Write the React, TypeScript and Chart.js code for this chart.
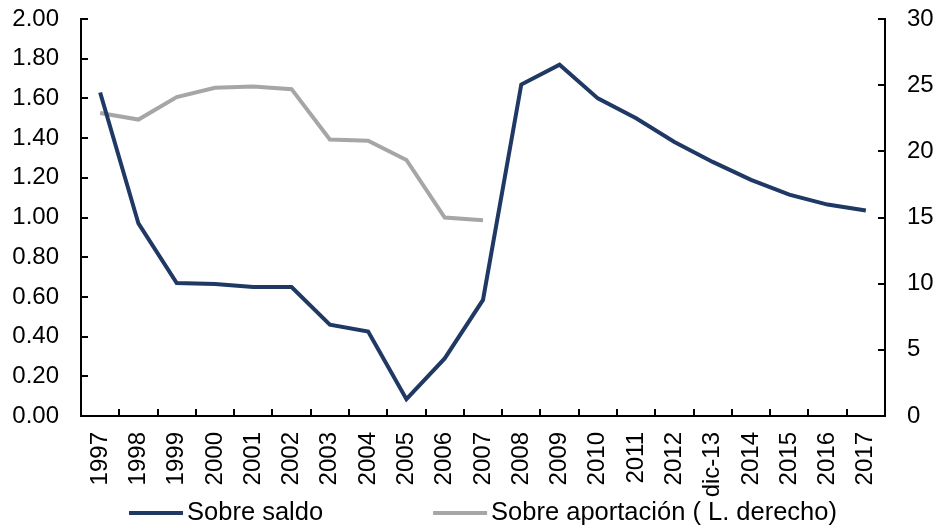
import React, { useEffect, useRef } from "react";
import { Chart, registerables } from "chart.js";

Chart.register(...registerables);

const categories = [
  "1997", "1998", "1999", "2000", "2001", "2002", "2003", "2004", "2005", "2006",
  "2007", "2008", "2009", "2010", "2011", "2012", "dic-13", "2014", "2015", "2016", "2017",
];

const sobreSaldo = [
  1.63, 0.97, 0.67, 0.665, 0.65, 0.65, 0.46, 0.425, 0.085, 0.29,
  0.585, 1.67, 1.77, 1.6, 1.5, 1.38, 1.28, 1.19, 1.115, 1.065, 1.035,
];

const sobreAportacion = [
  22.9, 22.4, 24.1, 24.8, 24.9, 24.7, 20.9, 20.8, 19.35, 15.0,
  14.8, null, null, null, null, null, null, null, null, null, null,
];

const seriesLabels = ["Sobre saldo", "Sobre aportación ( L. derecho)"];
const seriesColors = ["#1F3864", "#A6A6A6"];

const leftAxis = { min: 0, max: 2, step: 0.2 };
const rightAxis = { min: 0, max: 30, step: 5 };

const FONT = "'Liberation Sans', Arial, sans-serif";

const innerTicks = {
  id: "innerTicks",
  afterDatasetsDraw(chart: any) {
    const { ctx, chartArea } = chart;
    const y = chart.scales.y;
    const y1 = chart.scales.y1;
    const x = chart.scales.x;
    const len = 7;
    ctx.save();
    ctx.strokeStyle = "#000";
    ctx.lineWidth = 2;
    ctx.beginPath();
    y.ticks.forEach((_: any, i: number) => {
      const py = Math.round(y.getPixelForTick(i));
      ctx.moveTo(chartArea.left, py);
      ctx.lineTo(chartArea.left + len, py);
    });
    y1.ticks.forEach((_: any, i: number) => {
      const py = Math.round(y1.getPixelForTick(i));
      ctx.moveTo(chartArea.right, py);
      ctx.lineTo(chartArea.right - len, py);
    });
    for (let i = 1; i < categories.length; i++) {
      const px = Math.round((x.getPixelForValue(i - 1) + x.getPixelForValue(i)) / 2);
      ctx.moveTo(px, chartArea.bottom);
      ctx.lineTo(px, chartArea.bottom - len);
    }
    ctx.stroke();
    ctx.restore();
  },
};

const customLegend = {
  id: "customLegend",
  afterDraw(chart: any) {
    const { ctx, chartArea } = chart;
    const fontSize = 25.5;
    const lineLen = 54;
    const lineGap = 4;
    const itemGap = 110;
    ctx.save();
    ctx.font = `${fontSize}px ${FONT}`;
    const items = chart.data.datasets.map((d: any) => ({
      text: d.label,
      color: d.borderColor,
      w: lineLen + lineGap + ctx.measureText(d.label).width,
    }));
    const total = items.reduce((s: number, it: any) => s + it.w, 0) + itemGap * (items.length - 1);
    let x = (chartArea.left + chartArea.right) / 2 - total / 2;
    const y = 513;
    items.forEach((it: any) => {
      ctx.fillStyle = it.color;
      ctx.fillRect(x, y - 2, lineLen, 4);
      ctx.fillStyle = "#000";
      ctx.textBaseline = "middle";
      ctx.textAlign = "left";
      ctx.fillText(it.text, x + lineLen + lineGap, y);
      x += it.w + itemGap;
    });
    ctx.restore();
  },
};

export default function App() {
  const ref = useRef<HTMLCanvasElement | null>(null);

  useEffect(() => {
    if (!ref.current) return;
    Chart.defaults.font.family = FONT;
    const chart = new Chart(ref.current, {
      type: "line",
      data: {
        labels: categories,
        datasets: [
          {
            label: seriesLabels[0],
            data: sobreSaldo,
            borderColor: seriesColors[0],
            backgroundColor: seriesColors[0],
            borderWidth: 4,
            pointRadius: 0,
            tension: 0,
            yAxisID: "y",
          },
          {
            label: seriesLabels[1],
            data: sobreAportacion as any,
            borderColor: seriesColors[1],
            backgroundColor: seriesColors[1],
            borderWidth: 4,
            pointRadius: 0,
            tension: 0,
            spanGaps: false,
            yAxisID: "y1",
          },
        ],
      },
      options: {
        responsive: false,
        animation: false,
        layout: { padding: { top: 19, bottom: 28, left: 0, right: 0 } },
        plugins: {
          legend: { display: false },
          tooltip: { enabled: false },
        },
        scales: {
          x: {
            offset: true,
            grid: { display: false, drawTicks: false },
            border: { display: true, color: "#000", width: 2 },
            ticks: {
              color: "#000",
              font: { size: 24, family: FONT },
              minRotation: 90,
              maxRotation: 90,
              padding: 16,
              autoSkip: false,
            },
            afterFit(scale: any) {
              scale.height = 84;
              scale.paddingLeft = 0;
              scale.paddingRight = 0;
            },
          },
          y: {
            position: "left",
            min: leftAxis.min,
            max: leftAxis.max,
            grid: { display: false, drawTicks: false },
            border: { display: true, color: "#000", width: 2 },
            ticks: {
              stepSize: leftAxis.step,
              color: "#000",
              font: { size: 24, family: FONT },
              padding: 22,
              callback: (v: any) => Number(v).toFixed(2),
            },
            afterFit(scale: any) {
              scale.width = 81;
              scale.paddingTop = 0;
              scale.paddingBottom = 0;
            },
          },
          y1: {
            position: "right",
            min: rightAxis.min,
            max: rightAxis.max,
            grid: { display: false, drawTicks: false },
            border: { display: true, color: "#000", width: 2 },
            ticks: {
              stepSize: rightAxis.step,
              color: "#000",
              font: { size: 24, family: FONT },
              padding: 22,
            },
            afterFit(scale: any) {
              scale.width = 58;
              scale.paddingTop = 0;
              scale.paddingBottom = 0;
            },
          },
        },
      },
      plugins: [innerTicks, customLegend],
    });
    return () => chart.destroy();
  }, []);

  return (
    <div style={{ position: "absolute", left: 0, top: 0, width: 943, height: 528, background: "#fff" }}>
      <canvas ref={ref} width={943} height={528} style={{ display: "block" }} />
    </div>
  );
}
